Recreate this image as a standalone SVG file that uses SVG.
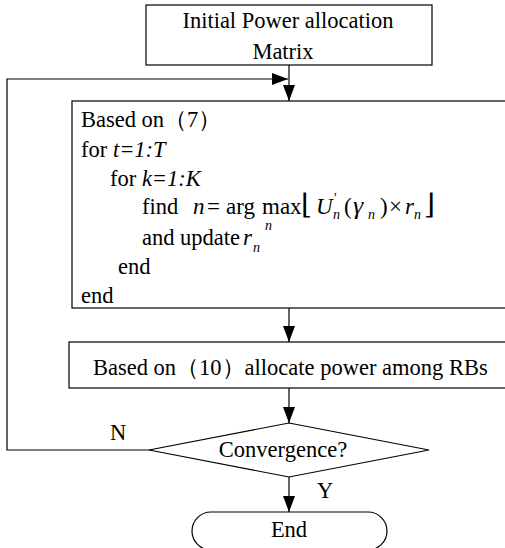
<svg xmlns="http://www.w3.org/2000/svg" width="505" height="548" viewBox="0 0 505 548">
<defs>
<marker id="ah" markerUnits="userSpaceOnUse" markerWidth="18" markerHeight="14" refX="16" refY="6" orient="auto">
<path d="M0,0 L16,6 L0,12 Z" fill="#000"/>
</marker>
</defs>
<style>
.box{fill:#fff;stroke:#000;stroke-width:1.2}
.ln{fill:none;stroke:#000;stroke-width:1.2}
text{font-family:"Liberation Serif","Times New Roman",serif;font-size:22.5px;fill:#000}
.it{font-style:italic}
.m{font-size:23px}
.g{font-size:26px}
.sub{font-size:14px;font-style:italic}
.br{font-family:"DejaVu Serif",serif;font-size:28px}
</style>
<rect width="505" height="548" fill="#fff"/>
<g id="connectors">
<path class="ln" d="M289,65 V101" marker-end="url(#ah)"/>
<path class="ln" d="M150,450 H7 V79 H288" marker-end="url(#ah)"/>
<path class="ln" d="M289,308 V342" marker-end="url(#ah)"/>
<path class="ln" d="M289,388 V423" marker-end="url(#ah)"/>
<path class="ln" d="M289,477 V512" marker-end="url(#ah)"/>
<text x="110" y="440">N</text>
<text x="317" y="498">Y</text>
</g>
<g id="init">
<rect class="box" x="146" y="5" width="286" height="60"/>
<text x="288" y="28" text-anchor="middle">Initial Power allocation</text>
<text x="283" y="59" text-anchor="middle">Matrix</text>
</g>
<g id="loop">
<rect class="box" x="72" y="101" width="450" height="207"/>
<text x="81" y="127">Based on（7）</text>
<text x="81" y="157">for <tspan class="it">t=1:T</tspan></text>
<text x="110" y="186">for <tspan class="it">k=1:K</tspan></text>
<text x="142" y="214">find</text>
<text class="m it" x="193" y="214">n</text>
<text class="m" x="207" y="214">=</text>
<text class="m" x="226" y="214">arg</text>
<text class="m" x="262" y="214">max</text>
<text class="br" x="301" y="214">⌊</text>
<text class="m it" x="316" y="214">U</text>
<text class="sub" x="333" y="203">'</text>
<text class="sub" x="333" y="219">n</text>
<text class="m" x="344" y="214">(</text>
<text class="g it" x="353" y="214">γ</text>
<text class="sub" x="368" y="219">n</text>
<text class="m" x="380" y="214">)</text>
<text class="m" x="389" y="214">×</text>
<text class="m it" x="405" y="214">r</text>
<text class="sub" x="414" y="219">n</text>
<text class="br" x="424" y="214">⌋</text>
<text x="142" y="245">and update</text>
<text class="m it" x="243" y="245">r</text>
<text class="sub" x="253" y="252">n</text>
<text class="sub" x="265" y="230">n</text>
<text x="118" y="274">end</text>
<text x="81" y="303">end</text>
</g>
<g id="alloc">
<rect class="box" x="69" y="342" width="450" height="46"/>
<text x="93" y="375">Based on（10）allocate power among RBs</text>
</g>
<g id="conv">
<path class="box" d="M289,423 L429,450 L289,477 L149,450 Z"/>
<text x="283" y="457" text-anchor="middle">Convergence?</text>
</g>
<g id="end">
<rect class="box" x="192" y="512" width="195" height="38" rx="19"/>
<text x="289" y="537" text-anchor="middle">End</text>
</g>
</svg>
